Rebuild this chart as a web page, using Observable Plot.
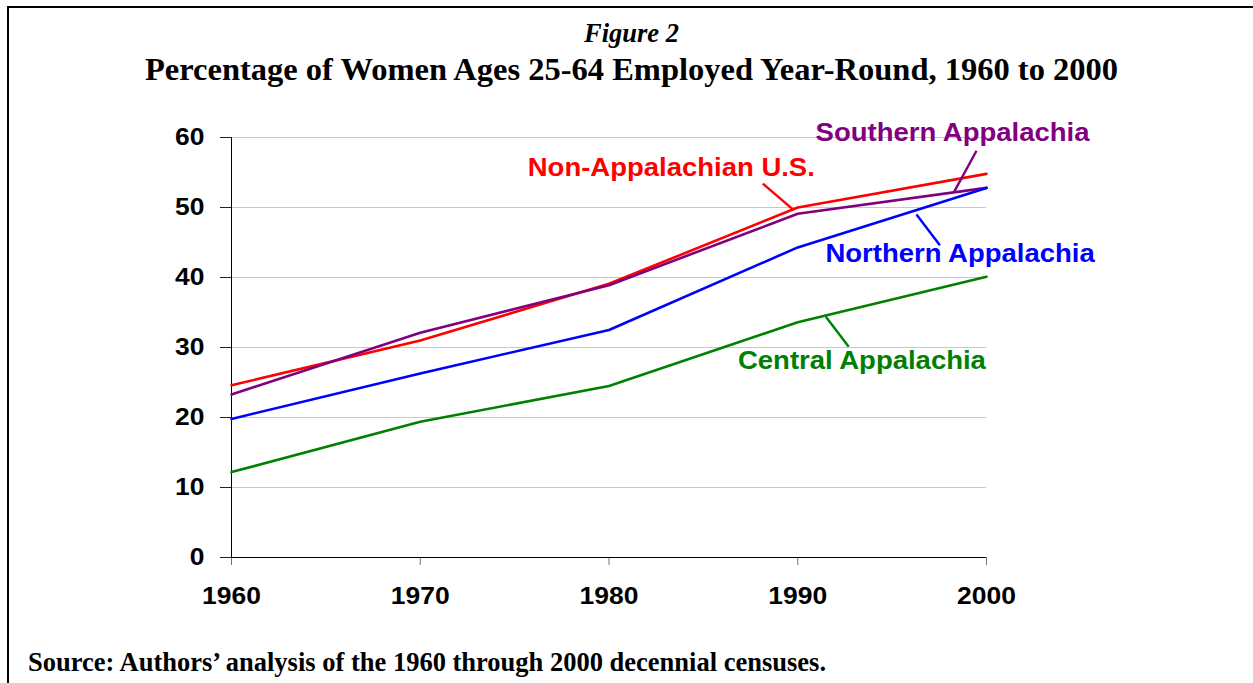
<!DOCTYPE html>
<html>
<head>
<meta charset="utf-8">
<script src="https://cdn.jsdelivr.net/npm/d3@7"></script>
<script src="https://cdn.jsdelivr.net/npm/@observablehq/plot@0.6"></script>
<style>
  html, body { margin: 0; padding: 0; background: #fff; width: 1253px; height: 683px; overflow: hidden; }
  #frame { position: absolute; left: 7px; top: 6px; width: 1260px; height: 700px; border: 2.5px solid #000; box-sizing: border-box; }
  #head { position: absolute; left: 0; top: 0; width: 1263px; height: 110px; text-align: center; font-family: "Liberation Serif", "Times New Roman", serif; font-weight: bold; color: #000; }
  #fig { position: absolute; left: 0; width: 1263px; top: 20px; font-size: 26.5px; font-style: italic; line-height: 1; }
  #title { position: absolute; left: 0; width: 1263px; top: 53px; font-size: 32.5px; line-height: 1; }
  #chart { position: absolute; left: 0; top: 110px; }
  #src { position: absolute; left: 28px; top: 649px; font-family: "Liberation Serif", "Times New Roman", serif; font-weight: bold; font-size: 26.5px; line-height: 1; white-space: nowrap; }
</style>
</head>
<body>
<div id="frame"></div>
<div id="head">
  <div id="fig">Figure 2</div>
  <div id="title">Percentage of Women Ages 25-64 Employed Year-Round, 1960 to 2000</div>
</div>
<div id="chart"></div>
<div id="src">Source: Authors’ analysis of the 1960 through 2000 decennial censuses.</div>
<script>
// ---- data ----
const years = [1960, 1970, 1980, 1990, 2000];
const seriesNames = ["Non-Appalachian U.S.", "Southern Appalachia", "Northern Appalachia", "Central Appalachia"];
const nonAppalachian = [24.6, 31.0, 39.1, 50.0, 54.8];
const southernAppalachia = [23.3, 32.1, 38.9, 49.1, 52.8];
const northernAppalachia = [19.8, 26.3, 32.5, 44.3, 52.8];
const centralAppalachia = [12.2, 19.4, 24.5, 33.6, 40.1];
const seriesColors = ["#ff0000", "#800080", "#0000ff", "#008000"];
const xTicks = [1960, 1970, 1980, 1990, 2000];
const yTicks = [0, 10, 20, 30, 40, 50, 60];

// label anchors and leader lines in data units (year, percent)
const labelX = [1983.3, 1998.2, 1998.6, 1993.4];
const labelY = [55.7, 60.7, 43.3, 28.1];
const leaderX1 = [1988.15, 1999.47, 1996.29, 1991.49];
const leaderY1 = [53.4, 58.1, 49.0, 34.4];
const leaderX2 = [1989.71, 1998.3, 1997.53, 1992.7];
const leaderY2 = [49.8, 52.3, 44.6, 30.1];

// ---- build tables ----
const allValues = [nonAppalachian, southernAppalachia, northernAppalachia, centralAppalachia];
const rows = [];
seriesNames.forEach((name, i) => {
  years.forEach((yr, j) => rows.push({series: name, year: yr, value: allValues[i][j]}));
});
const labels = seriesNames.map((name, i) => ({
  series: name, x: labelX[i], y: labelY[i],
  x1: leaderX1[i], y1: leaderY1[i], x2: leaderX2[i], y2: leaderY2[i]
}));
const colorOf = Object.fromEntries(seriesNames.map((n, i) => [n, seriesColors[i]]));

const chart = Plot.plot({
  width: 1253,
  height: 510,
  marginLeft: 231,
  marginRight: 267,
  marginTop: 27,
  marginBottom: 63,
  style: { fontFamily: "'Liberation Sans', Arial, sans-serif", background: "transparent", overflow: "visible" },
  x: { domain: [1960, 2000] },
  y: { domain: [0, 60] },
  marks: [
    Plot.gridY(yTicks.filter(d => d > 0), { stroke: "#c8c8c8", strokeOpacity: 1, strokeWidth: 1 }),
    Plot.axisY(yTicks, { tickSize: 11, tickPadding: 16, fontSize: 23, fontWeight: "bold", fill: "#000", stroke: "#222", strokeOpacity: 1, label: null, tickFormat: d => String(d) }),
    Plot.axisX(xTicks, { tickSize: 8, tickPadding: 22, fontSize: 23, fontWeight: "bold", fill: "#000", stroke: "#777", strokeOpacity: 1, label: null, tickFormat: d => String(d) }),
    Plot.ruleY([0], { stroke: "#000", strokeWidth: 1 }),
    Plot.ruleX([1960], { stroke: "#000", strokeWidth: 1 }),
    Plot.line(rows, { x: "year", y: "value", z: "series", stroke: d => colorOf[d.series], strokeWidth: 2.6 }),
    Plot.link(labels, { x1: "x1", y1: "y1", x2: "x2", y2: "y2", stroke: d => colorOf[d.series], strokeWidth: 2.4 }),
    Plot.text(labels, { x: "x", y: "y", text: "series", fill: d => colorOf[d.series], fontSize: 25, fontWeight: "bold", textAnchor: "middle" })
  ]
});

// horizontal stretch of sans-serif text, as in the original chart rendering
function stretch(sel, s) {
  chart.querySelectorAll(sel).forEach(t => {
    const tr = t.getAttribute("transform");
    if (tr) {
      t.setAttribute("transform", tr + ` scale(${s},1)`);
    } else {
      const x = +(t.getAttribute("x") || 0), y = +(t.getAttribute("y") || 0);
      t.removeAttribute("x"); t.removeAttribute("y");
      t.setAttribute("transform", `translate(${x},${y}) scale(${s},1)`);
    }
  });
}
stretch('g[aria-label="x-axis tick label"] text', 1.15);
stretch('g[aria-label="y-axis tick label"] text', 1.15);
stretch('g[aria-label="text"] text', 1.1);

document.getElementById("chart").appendChild(chart);
</script>
</body>
</html>
